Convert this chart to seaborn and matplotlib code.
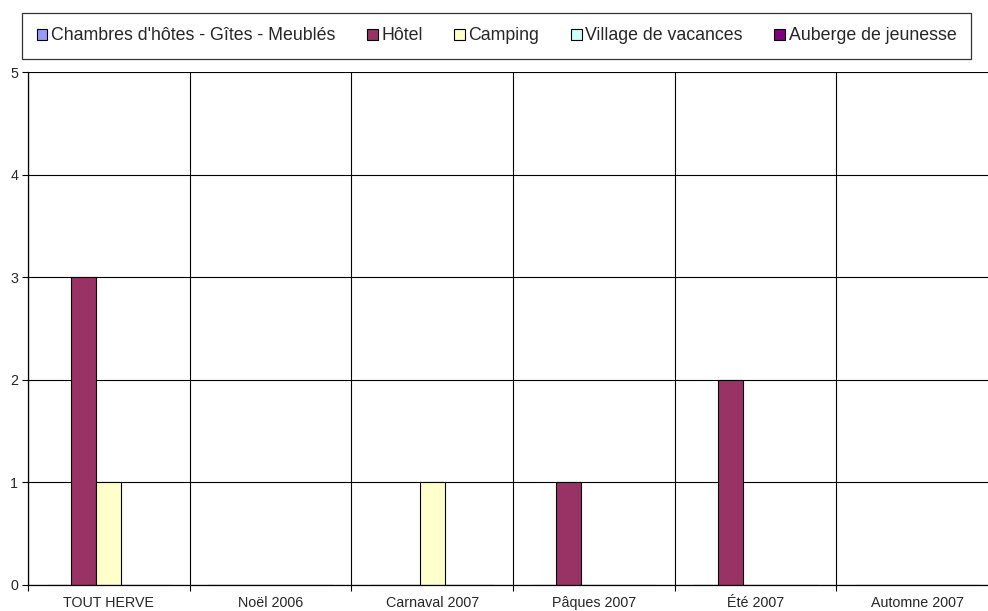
import matplotlib
matplotlib.use("Agg")
import matplotlib.pyplot as plt
import seaborn as sns
import pandas as pd
import numpy as np

categories = ["TOUT HERVE", "Noël 2006", "Carnaval 2007", "Pâques 2007", "Été 2007", "Automne 2007"]
series_names = ["Chambres d'hôtes - Gîtes - Meublés", "Hôtel", "Camping", "Village de vacances", "Auberge de jeunesse"]
chambres = [0, 0, 0, 0, 0, 0]
hotel = [3, 0, 0, 1, 2, 0]
camping = [1, 0, 1, 0, 0, 0]
village = [0, 0, 0, 0, 0, 0]
auberge = [0, 0, 0, 0, 0, 0]
colors = ["#9999FF", "#993366", "#FFFFCC", "#CCFFFF", "#800080"]
yticks = [0, 1, 2, 3, 4, 5]

sns.set_style("white")
plt.rcParams["font.family"] = ["Liberation Sans", "DejaVu Sans"]

rows = []
for name, vals in zip(series_names, [chambres, hotel, camping, village, auberge]):
    for c, v in zip(categories, vals):
        rows.append({"cat": c, "series": name, "val": v})
df = pd.DataFrame(rows)

W, H = 988, 611
fig = plt.figure(figsize=(W / 100, H / 100), dpi=100)
ax = fig.add_axes([28 / W, (H - 585) / H, 970 / W, (585 - 72) / H])

sns.barplot(data=df, x="cat", y="val", hue="series", order=categories,
            hue_order=series_names, palette=colors, saturation=1,
            width=0.77, edgecolor="black", linewidth=0.8, ax=ax, errorbar=None)

handles = ax.get_legend().legend_handles
ax.get_legend().remove()

ax.set_xlim(-0.5, 5.5)
ax.set_ylim(0, 5)
ax.set_yticks(yticks)
ax.set_xlabel("")
ax.set_ylabel("")

ax.set_xticks(np.arange(-0.5, 6.0, 1.0))
ax.set_xticklabels([])
ax.set_xticks(np.arange(0, 6), minor=True)
ax.set_xticklabels(categories, minor=True, fontsize=10.3)
ax.tick_params(axis="x", which="major", length=4, width=0.8, color="black", direction="out", bottom=True)
ax.tick_params(axis="x", which="minor", length=0, pad=8)
ax.tick_params(axis="y", length=4, width=0.8, color="black", direction="out", left=True, labelsize=10.3, pad=3)

ax.grid(True, which="major", axis="both", color="black", linewidth=0.8)
ax.set_axisbelow(True)
for s in ["top", "right"]:
    ax.spines[s].set_visible(False)
for s in ["left", "bottom"]:
    ax.spines[s].set_color("black")
    ax.spines[s].set_linewidth(0.9)

leg = fig.legend(handles, series_names, loc="center",
                 bbox_to_anchor=(496.5 / W, 1 - 36 / H), ncol=5,
                 fontsize=12.8, frameon=True, fancybox=False, edgecolor="black",
                 handlelength=0.6, handleheight=0.6, handletextpad=0.2,
                 columnspacing=1.78, borderpad=0.8, borderaxespad=0)
leg.get_frame().set_linewidth(0.9)
for h in leg.legend_handles:
    h.set_edgecolor("black")
    h.set_linewidth(0.8)

fig.savefig("out.png", dpi=100)
